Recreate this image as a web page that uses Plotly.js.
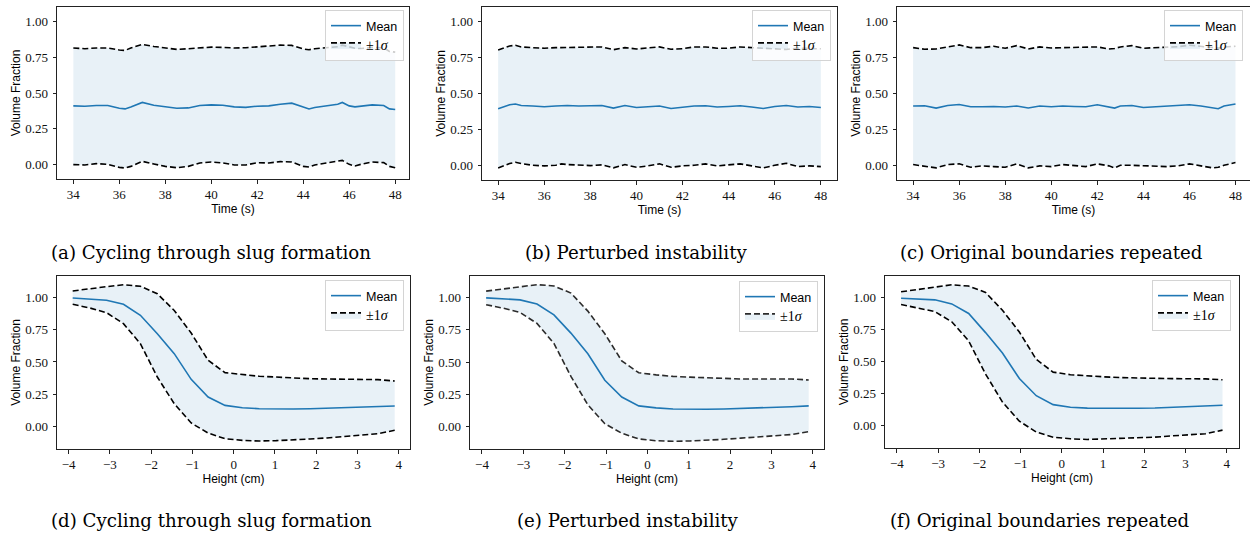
<!DOCTYPE html>
<html>
<head>
<meta charset="utf-8">
<script src="https://cdn.plot.ly/plotly-3.0.1.min.js"></script>
<style>html,body{margin:0;padding:0;background:#fff;}#chart{width:1250px;height:533px;}</style>
</head>
<body>
<div id="chart"></div>
<script>
// ---------- data ----------
const timeA = [34, 34.5, 35, 35.5, 36, 36.25, 36.5, 37, 37.5, 38, 38.5, 39, 39.5, 40, 40.5, 41, 41.5, 42, 42.5, 43, 43.5, 44, 44.25, 44.5, 45, 45.5, 45.7, 46, 46.25, 46.5, 47, 47.5, 47.75, 48];
const meanA = [0.41, 0.408, 0.413, 0.413, 0.394, 0.389, 0.403, 0.434, 0.415, 0.406, 0.394, 0.396, 0.413, 0.417, 0.415, 0.403, 0.40, 0.408, 0.41, 0.422, 0.429, 0.403, 0.389, 0.399, 0.41, 0.422, 0.434, 0.41, 0.403, 0.406, 0.417, 0.413, 0.389, 0.385];
const upperA = [0.814, 0.809, 0.814, 0.814, 0.80, 0.797, 0.814, 0.839, 0.825, 0.814, 0.804, 0.809, 0.816, 0.82, 0.818, 0.814, 0.816, 0.823, 0.825, 0.834, 0.832, 0.807, 0.802, 0.809, 0.816, 0.823, 0.834, 0.82, 0.812, 0.81, 0.818, 0.815, 0.79, 0.785];
const lowerA = [0.0, -0.002, 0.007, 0.002, -0.019, -0.023, -0.012, 0.023, 0.005, -0.012, -0.021, -0.012, 0.012, 0.019, 0.012, -0.002, -0.002, 0.014, 0.012, 0.021, 0.019, -0.012, -0.016, -0.002, 0.012, 0.026, 0.03, 0.002, -0.009, 0.002, 0.019, 0.014, -0.012, -0.021];

const timeB = [34, 34.25, 34.5, 34.75, 35, 35.5, 36, 36.5, 36.75, 37, 37.5, 38, 38.5, 39, 39.5, 40, 40.5, 41, 41.5, 42, 42.5, 43, 43.5, 44, 44.5, 45, 45.5, 46, 46.5, 47, 47.5, 48];
const meanB = [0.394, 0.408, 0.422, 0.427, 0.417, 0.413, 0.408, 0.413, 0.415, 0.417, 0.413, 0.413, 0.417, 0.399, 0.417, 0.403, 0.41, 0.413, 0.396, 0.406, 0.413, 0.415, 0.406, 0.41, 0.415, 0.406, 0.396, 0.41, 0.417, 0.406, 0.41, 0.403];
const upperB = [0.802, 0.818, 0.83, 0.834, 0.823, 0.818, 0.814, 0.818, 0.818, 0.818, 0.818, 0.818, 0.823, 0.804, 0.818, 0.809, 0.818, 0.823, 0.807, 0.811, 0.823, 0.823, 0.814, 0.814, 0.823, 0.818, 0.816, 0.808, 0.805, 0.815, 0.812, 0.81];
const lowerB = [-0.016, 0.0, 0.014, 0.023, 0.014, 0.002, -0.002, 0.002, 0.012, 0.007, 0.002, 0.0, 0.005, -0.016, 0.007, -0.012, -0.002, 0.012, -0.012, -0.002, 0.002, 0.012, -0.002, 0.007, 0.012, -0.002, -0.016, 0.002, 0.016, -0.007, -0.002, -0.007];

const timeC = [34, 34.5, 35, 35.5, 36, 36.5, 37, 37.5, 38, 38.5, 39, 39.5, 40, 40.5, 41, 41.5, 42, 42.5, 42.75, 43, 43.5, 44, 44.5, 45, 45.5, 46, 46.5, 47, 47.25, 47.5, 48];
const meanC = [0.413, 0.415, 0.399, 0.417, 0.424, 0.408, 0.408, 0.41, 0.406, 0.413, 0.399, 0.413, 0.408, 0.413, 0.41, 0.408, 0.422, 0.41, 0.399, 0.413, 0.417, 0.403, 0.408, 0.41, 0.415, 0.422, 0.413, 0.401, 0.394, 0.413, 0.427];
const upperC = [0.818, 0.807, 0.809, 0.823, 0.837, 0.818, 0.818, 0.828, 0.814, 0.832, 0.809, 0.823, 0.816, 0.818, 0.818, 0.823, 0.823, 0.809, 0.812, 0.823, 0.832, 0.814, 0.818, 0.823, 0.825, 0.835, 0.825, 0.815, 0.815, 0.822, 0.828];
const lowerC = [0.007, -0.007, -0.016, 0.007, 0.012, -0.012, -0.002, -0.007, -0.012, 0.012, -0.016, -0.002, -0.007, 0.007, 0.002, -0.007, 0.012, -0.002, -0.016, 0.002, 0.002, -0.002, -0.007, -0.007, -0.002, 0.012, -0.002, -0.016, -0.012, 0.002, 0.021];

const heights = [-3.9, -3.49, -3.08, -2.67, -2.26, -1.85, -1.44, -1.03, -0.62, -0.21, 0.21, 0.62, 1.03, 1.44, 1.85, 2.26, 2.67, 3.08, 3.49, 3.9];
const meanD = [0.997, 0.99, 0.98, 0.948, 0.863, 0.72, 0.565, 0.365, 0.228, 0.163, 0.145, 0.137, 0.135, 0.135, 0.137, 0.14, 0.145, 0.15, 0.153, 0.158];
const upperD = [1.052, 1.07, 1.085, 1.10, 1.088, 1.03, 0.90, 0.725, 0.513, 0.417, 0.40, 0.389, 0.383, 0.376, 0.37, 0.368, 0.365, 0.365, 0.363, 0.352];
const lowerD = [0.948, 0.92, 0.883, 0.798, 0.642, 0.383, 0.176, 0.026, -0.052, -0.096, -0.109, -0.114, -0.111, -0.106, -0.098, -0.09, -0.08, -0.067, -0.057, -0.031];
const meanE = [0.998, 0.992, 0.982, 0.95, 0.866, 0.725, 0.565, 0.36, 0.23, 0.162, 0.146, 0.138, 0.136, 0.136, 0.138, 0.141, 0.146, 0.151, 0.155, 0.162];
const upperE = [1.05, 1.068, 1.085, 1.10, 1.09, 1.035, 0.895, 0.72, 0.51, 0.418, 0.402, 0.39, 0.384, 0.378, 0.374, 0.37, 0.37, 0.372, 0.37, 0.362];
const lowerE = [0.945, 0.918, 0.885, 0.8, 0.645, 0.39, 0.17, 0.024, -0.05, -0.094, -0.108, -0.112, -0.11, -0.105, -0.097, -0.088, -0.078, -0.067, -0.06, -0.037];
const meanF = [0.995, 0.99, 0.982, 0.95, 0.875, 0.725, 0.565, 0.365, 0.23, 0.16, 0.14, 0.133, 0.131, 0.131, 0.132, 0.134, 0.138, 0.143, 0.147, 0.155];
const upperF = [1.045, 1.063, 1.08, 1.10, 1.09, 1.04, 0.9, 0.73, 0.515, 0.415, 0.395, 0.385, 0.378, 0.372, 0.368, 0.366, 0.364, 0.363, 0.362, 0.355];
const lowerF = [0.945, 0.92, 0.89, 0.81, 0.66, 0.4, 0.18, 0.03, -0.055, -0.095, -0.108, -0.113, -0.11, -0.105, -0.1, -0.095, -0.085, -0.075, -0.068, -0.04];

const captions = ["(a) Cycling through slug formation", "(b) Perturbed instability", "(c) Original boundaries repeated",
                  "(d) Cycling through slug formation", "(e) Perturbed instability", "(f) Original boundaries repeated"];
const meanLabel = "Mean";
const sigmaLabel = '<span style="font-family:\'Liberation Serif\', serif;font-size:14px">±1<i>σ</i></span>';
const timeTitle = "Time (s)";
const heightTitle = "Height (cm)";
const yTitle = "Volume Fraction";
const yTicks = [0, 0.25, 0.5, 0.75, 1.0];
const timeTicks = [34, 36, 38, 40, 42, 44, 46, 48];
const heightTicks = [-4, -3, -2, -1, 0, 1, 2, 3, 4];

// ---------- layout geometry (pixels in the 1250x533 figure) ----------
const W = 1250, H = 533;
const panels = [
  {x: timeA, m: meanA, u: upperA, l: lowerA, px: [57, 409], py: [7, 179], xr: [33.29, 48.6], yr: [-0.1, 1.1], xt: timeTicks, xtitle: timeTitle, leg: [404, 10], cap: [211, 252], dash: '#000'},
  {x: timeB, m: meanB, u: upperB, l: lowerB, px: [482, 837], py: [7, 180], xr: [33.3, 48.7], yr: [-0.1, 1.1], xt: timeTicks, xtitle: timeTitle, leg: [831, 10], cap: [636, 252], dash: '#000'},
  {x: timeC, m: meanC, u: upperC, l: lowerC, px: [897, 1250], py: [7, 180], xr: [33.3, 48.63], yr: [-0.1, 1.1], xt: timeTicks, xtitle: timeTitle, leg: [1243, 10], cap: [1051, 252], dash: '#000'},
  {x: heights, m: meanD, u: upperD, l: lowerD, px: [57, 410], py: [276, 449], xr: [-4.28, 4.27], yr: [-0.176, 1.168], xt: heightTicks, xtitle: heightTitle, leg: [404, 280], cap: [211, 520], dash: '#000'},
  {x: heights, m: meanE, u: upperE, l: lowerE, px: [470, 824], py: [276, 449], xr: [-4.29, 4.27], yr: [-0.172, 1.167], xt: heightTicks, xtitle: heightTitle, leg: [818, 281], cap: [628, 520], dash: '#2b2b2b'},
  {x: heights, m: meanF, u: upperF, l: lowerF, px: [885, 1239], py: [276, 448], xr: [-4.29, 4.3], yr: [-0.18, 1.169], xt: heightTicks, xtitle: heightTitle, leg: [1231, 280], cap: [1039, 520], dash: '#000'}
];

const tickFont = {family: "'Liberation Serif', serif", size: 13, color: '#111'};
const titleFont = {family: "'Liberation Sans', Arial, sans-serif", size: 12, color: '#000'};

const data = [];
const layout = {
  width: W, height: H,
  margin: {l: 0, r: 0, t: 0, b: 0},
  paper_bgcolor: '#fff', plot_bgcolor: '#fff',
  showlegend: true,
  annotations: []
};

panels.forEach((p, i) => {
  const n = i + 1;
  const sfx = n === 1 ? '' : String(n);
  const xa = 'x' + sfx, ya = 'y' + sfx;
  const legName = 'legend' + sfx;

  // lower bound (dashed)
  data.push({x: p.x, y: p.l, xaxis: xa, yaxis: ya, type: 'scatter', mode: 'lines',
    line: {color: p.dash, width: 1.6, dash: '6px,3px'}, showlegend: false, hoverinfo: 'skip', legend: legName});
  // upper bound (dashed) with the shaded band down to the lower bound
  data.push({x: p.x, y: p.u, xaxis: xa, yaxis: ya, type: 'scatter', mode: 'lines',
    line: {color: p.dash, width: 1.6, dash: '6px,3px'}, fill: 'tonexty', fillcolor: 'rgba(31,119,180,0.1)',
    name: sigmaLabel, legendrank: 2, legend: legName});
  // mean
  data.push({x: p.x, y: p.m, xaxis: xa, yaxis: ya, type: 'scatter', mode: 'lines',
    line: {color: '#1f77b4', width: 1.6}, name: meanLabel, legendrank: 1, legend: legName});

  const axCommon = {
    showline: true, mirror: true, linecolor: '#222', linewidth: 1,
    ticks: 'outside', ticklen: 3.5, tickwidth: 1, tickcolor: '#222',
    showgrid: false, zeroline: false, tickfont: tickFont
  };
  layout['xaxis' + sfx] = Object.assign({}, axCommon, {
    domain: [p.px[0] / W, p.px[1] / W], range: p.xr, anchor: ya,
    tickmode: 'array', tickvals: p.xt, ticklabelstandoff: 0,
    title: {text: p.xtitle, font: titleFont, standoff: 2}
  });
  layout['yaxis' + sfx] = Object.assign({}, axCommon, {
    domain: [1 - p.py[1] / H, 1 - p.py[0] / H], range: p.yr, anchor: xa,
    tickmode: 'array', tickvals: yTicks, tickformat: '.2f', ticklabelstandoff: 2,
    title: {text: yTitle, font: titleFont, standoff: 1}
  });
  layout[legName] = {
    x: p.leg[0] / W, y: 1 - p.leg[1] / H, xanchor: 'right', yanchor: 'top',
    bgcolor: 'rgba(255,255,255,0.8)', bordercolor: '#d4d4d4', borderwidth: 1,
    font: {family: "'Liberation Sans', Arial, sans-serif", size: 12.5, color: '#000'},
    itemwidth: 30, tracegroupgap: 0, traceorder: 'normal'
  };
  layout.annotations.push({
    text: captions[i], xref: 'paper', yref: 'paper',
    x: p.cap[0] / W, y: 1 - p.cap[1] / H, xanchor: 'center', yanchor: 'middle',
    showarrow: false, font: {family: "'DejaVu Serif', serif", size: 18.2, color: '#000'}
  });
});

Plotly.newPlot('chart', data, layout, {staticPlot: true, displayModeBar: false});
</script>
</body>
</html>
